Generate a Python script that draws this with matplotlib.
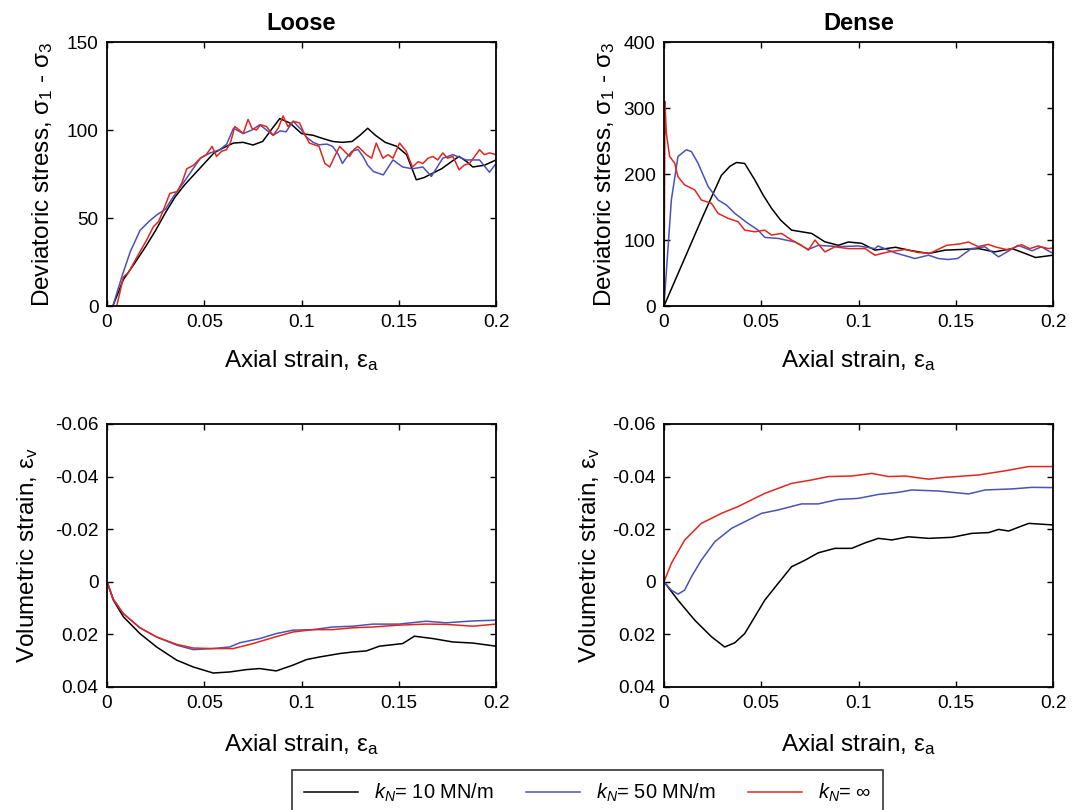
import matplotlib
matplotlib.use('Agg')
import matplotlib.pyplot as plt

# Fontes (parecido com Helvetica)
plt.rcParams['font.family'] = ['Liberation Sans', 'DejaVu Sans']
plt.rcParams['mathtext.fontset'] = 'custom'
plt.rcParams['mathtext.rm'] = 'Liberation Sans'
plt.rcParams['mathtext.it'] = 'Liberation Sans:italic'

# Cores das series
cores = ['black', '#4a52b8', '#e3261d']
legendas = ['$k_N$= 10 MN/m', '$k_N$= 50 MN/m', '$k_N$= \u221e']

# Ticks
xticks = [0, 0.05, 0.1, 0.15, 0.2]
xticklabels = ['0', '0.05', '0.1', '0.15', '0.2']
ticks_loose = [0, 50, 100, 150]
ticks_dense = [0, 100, 200, 300, 400]
ticks_vol = [-0.06, -0.04, -0.02, 0, 0.02, 0.04]
ticklabels_vol = ['-0.06', '-0.04', '-0.02', '0', '0.02', '0.04']

# ---- Loose: tensao desviadora ----
loose_q_x_10 = [0.003, 0.0084, 0.014, 0.02, 0.025, 0.03, 0.035, 0.04, 0.045, 0.05, 0.055, 0.06, 0.065, 0.07,
                0.075, 0.08, 0.085, 0.0888, 0.094, 0.1, 0.106, 0.11, 0.116, 0.121, 0.126, 0.13, 0.134, 0.138,
                0.143, 0.149, 0.154, 0.159, 0.163, 0.1675, 0.172, 0.177, 0.181, 0.185, 0.188, 0.194, 0.2]
loose_q_y_10 = [0, 15, 24, 34, 43, 53, 62, 69, 75, 81, 87, 90, 92.6, 93, 91.5, 93.5, 101, 106.5, 104, 98,
                97, 95.5, 93.5, 93, 93.5, 97, 101, 97, 93, 90.7, 86, 71.7, 73, 75.5, 78, 82, 85, 82, 79, 80, 83]
loose_q_x_50 = [0.003, 0.008, 0.012, 0.017, 0.0215, 0.0255, 0.03, 0.034, 0.038, 0.043, 0.048, 0.053, 0.058,
                0.0615, 0.065, 0.07, 0.0745, 0.0785, 0.082, 0.0854, 0.089, 0.092, 0.0957, 0.1, 0.1025, 0.106,
                0.109, 0.113, 0.116, 0.119, 0.121, 0.1235, 0.126, 0.129, 0.1316, 0.134, 0.137, 0.142, 0.147,
                0.152, 0.157, 0.1624, 0.1667, 0.1726, 0.1778, 0.1846, 0.1915, 0.1966, 0.2]
loose_q_y_50 = [0, 18, 31, 43, 48, 51.7, 55, 62, 68, 76, 84, 87, 88.8, 92, 101, 98, 100, 103, 100, 97, 99.5,
                99, 105, 100, 96, 93, 91.6, 92, 90.7, 86, 81, 85, 88, 89, 85, 80, 76.4, 74.5, 83, 79, 78, 79,
                73.6, 84, 86, 83, 83, 76, 81]
loose_q_x_inf = [0.005, 0.0084, 0.011, 0.0135, 0.017, 0.0204, 0.0238, 0.0265, 0.029, 0.0323, 0.036, 0.0385,
                 0.041, 0.0445, 0.048, 0.051, 0.054, 0.0563, 0.059, 0.0614, 0.0635, 0.0657, 0.068, 0.07,
                 0.0725, 0.0745, 0.0768, 0.079, 0.082, 0.0854, 0.088, 0.0905, 0.093, 0.0957, 0.099, 0.101,
                 0.104, 0.109, 0.112, 0.1145, 0.117, 0.1196, 0.122, 0.1247, 0.127, 0.129, 0.1333, 0.136,
                 0.1384, 0.1418, 0.1445, 0.147, 0.1504, 0.1538, 0.157, 0.16, 0.1624, 0.165, 0.1675, 0.17,
                 0.1726, 0.175, 0.1778, 0.181, 0.1835, 0.1863, 0.189, 0.1915, 0.194, 0.1966, 0.2]
loose_q_y_inf = [0, 16.5, 19, 24, 31, 37.5, 45, 48, 54.6, 64, 65, 70, 78, 80, 84, 86, 90.7, 85, 88, 88.8,
                 93, 102, 100, 98, 106, 101, 100, 103, 102, 97, 101, 108, 102, 105, 104, 99, 92.6, 90.7,
                 81, 79, 85, 90.7, 88, 85, 89, 90.7, 86, 84, 92.6, 84, 86, 84, 92.6, 88, 79, 82, 81, 84,
                 85, 83, 87, 84, 85, 77.4, 80, 81, 85, 88.8, 86, 87, 86]

# ---- Dense: tensao desviadora ----
dense_q_x_10 = [0, 0.01, 0.02, 0.0295, 0.034, 0.0373, 0.0415, 0.0467, 0.051, 0.0553, 0.06, 0.0656, 0.0707,
                0.0759, 0.0827, 0.0896, 0.0948, 0.1016, 0.1085, 0.119, 0.127, 0.136, 0.1446, 0.153, 0.1617,
                0.17, 0.179, 0.1857, 0.191, 0.2]
dense_q_y_10 = [0, 68, 136, 198, 212, 217.5, 216, 191, 168, 148, 130, 115, 112.5, 110, 97.3, 92, 97, 95,
                84.7, 89, 84, 79.6, 84.7, 85.7, 87, 82, 87, 79.6, 73.5, 77]
dense_q_x_50 = [0, 0.0038, 0.0072, 0.0115, 0.0141, 0.0175, 0.0227, 0.0278, 0.0321, 0.0364, 0.0433, 0.0484,
                0.0518, 0.0587, 0.0673, 0.0742, 0.0793, 0.0896, 0.0999, 0.1085, 0.11, 0.1188, 0.129, 0.136,
                0.141, 0.146, 0.151, 0.158, 0.165, 0.172, 0.1755, 0.182, 0.1892, 0.194, 0.2]
dense_q_y_50 = [0, 161, 226.6, 236.8, 234, 216.5, 181, 160.7, 153, 140.4, 125, 115, 104, 102.4, 97, 85.7,
                92, 90, 91, 87, 91, 80.6, 72, 77, 72, 70.5, 72, 87, 89.7, 74.5, 80.6, 92, 83.7, 89.7, 79.6]
dense_q_x_inf = [0, 0.0005, 0.0012, 0.0029, 0.0055, 0.0072, 0.0106, 0.0158, 0.0192, 0.0244, 0.0278, 0.033,
                 0.0381, 0.0415, 0.0467, 0.0518, 0.0553, 0.0604, 0.0656, 0.0707, 0.0742, 0.0776, 0.0827,
                 0.0879, 0.0948, 0.1034, 0.1085, 0.1154, 0.124, 0.1308, 0.1368, 0.1453, 0.152, 0.1565,
                 0.1615, 0.1667, 0.171, 0.177, 0.1838, 0.188, 0.1924, 0.1975, 0.2]
dense_q_y_inf = [0, 310, 262, 226.6, 216.5, 196, 183.5, 176, 160.7, 155.6, 140.4, 132.8, 127.8, 115, 112.5,
                 115, 107.5, 110, 100, 92, 84.7, 100, 82, 89.7, 87, 87, 77, 82, 85.7, 81, 80, 92, 94, 97,
                 90, 93.4, 89, 85, 93, 87, 91, 87, 88]

# ---- Loose: deformacao volumetrica ----
loose_v_x_10 = [0, 0.00325, 0.0084, 0.0169, 0.0255, 0.0358, 0.0443, 0.0546, 0.063, 0.0717, 0.0785, 0.087,
                0.0956, 0.1025, 0.1093, 0.1196, 0.1264, 0.1333, 0.14, 0.152, 0.158, 0.1675, 0.1778, 0.188, 0.2]
loose_v_y_10 = [0, 0.007, 0.0133, 0.0197, 0.0248, 0.0298, 0.0324, 0.0347, 0.0343, 0.0334, 0.033, 0.0339,
                0.0317, 0.0296, 0.0286, 0.0273, 0.0267, 0.0263, 0.0245, 0.0235, 0.0207, 0.0216, 0.0229,
                0.0233, 0.0245]
loose_v_x_50 = [0, 0.00325, 0.0084, 0.0169, 0.0255, 0.0358, 0.0443, 0.0546, 0.063, 0.0683, 0.0785, 0.087,
                0.0956, 0.106, 0.116, 0.1264, 0.1367, 0.15, 0.164, 0.1743, 0.188, 0.2]
loose_v_y_50 = [0, 0.0067, 0.0121, 0.0175, 0.021, 0.0241, 0.0258, 0.0254, 0.0248, 0.0232, 0.0216, 0.0197,
                0.0184, 0.0182, 0.0172, 0.0169, 0.0161, 0.0161, 0.015, 0.0156, 0.0149, 0.0146]
loose_v_x_inf = [0, 0.00325, 0.0084, 0.0169, 0.0255, 0.0358, 0.0443, 0.0546, 0.0648, 0.0751, 0.0854,
                 0.0956, 0.106, 0.116, 0.1264, 0.1367, 0.15, 0.164, 0.1743, 0.188, 0.2]
loose_v_y_inf = [0, 0.0067, 0.0121, 0.0175, 0.021, 0.0238, 0.0252, 0.0254, 0.0254, 0.0235, 0.0212, 0.0191,
                 0.0182, 0.0182, 0.0175, 0.0172, 0.0165, 0.0161, 0.0162, 0.0169, 0.0161]

# ---- Dense: deformacao volumetrica ----
dense_v_x_10 = [0, 0.0072, 0.0158, 0.0244, 0.0312, 0.0364, 0.0415, 0.0467, 0.0518, 0.0587, 0.0656, 0.0725,
                0.0793, 0.0879, 0.0965, 0.1034, 0.1102, 0.1171, 0.1257, 0.136, 0.148, 0.1583, 0.1669, 0.172,
                0.1772, 0.1875, 0.2]
dense_v_y_10 = [0, 0.007, 0.0146, 0.0209, 0.0248, 0.0232, 0.0197, 0.0133, 0.007, 0.0006, -0.0057, -0.0082,
                -0.011, -0.0127, -0.0127, -0.0148, -0.0165, -0.0159, -0.0171, -0.0165, -0.0169, -0.0184,
                -0.0187, -0.0199, -0.0193, -0.0222, -0.0216]
dense_v_x_50 = [0, 0.0038, 0.0072, 0.0106, 0.0141, 0.0192, 0.0261, 0.0347, 0.0415, 0.0501, 0.0587, 0.0707,
                0.0793, 0.0896, 0.0999, 0.1102, 0.1205, 0.1274, 0.1411, 0.1566, 0.1651, 0.1789, 0.1892, 0.2]
dense_v_y_50 = [0, 0.0032, 0.0047, 0.0032, -0.0019, -0.0082, -0.0152, -0.0203, -0.0228, -0.026, -0.0273,
                -0.0296, -0.0296, -0.0313, -0.0317, -0.0332, -0.034, -0.0349, -0.0345, -0.0334, -0.0349,
                -0.0353, -0.0359, -0.0358]
dense_v_x_inf = [0, 0.0038, 0.0106, 0.0192, 0.0295, 0.0381, 0.0518, 0.0656, 0.0759, 0.0845, 0.0965, 0.1068,
                 0.1154, 0.124, 0.136, 0.1446, 0.1617, 0.1755, 0.1875, 0.2]
dense_v_y_inf = [0, -0.007, -0.0158, -0.0222, -0.026, -0.0286, -0.0336, -0.0374, -0.0387, -0.04, -0.0402,
                 -0.0412, -0.04, -0.0402, -0.039, -0.0397, -0.0406, -0.0422, -0.0438, -0.0438]

fig = plt.figure(figsize=(10.91, 8.10), dpi=100)

# Posicoes dos eixos (em fracao da figura)
ax1 = fig.add_axes([0.0981, 0.6222, 0.3566, 0.3259])
ax2 = fig.add_axes([0.6086, 0.6222, 0.3566, 0.3259])
ax3 = fig.add_axes([0.0981, 0.1519, 0.3566, 0.3247])
ax4 = fig.add_axes([0.6086, 0.1519, 0.3566, 0.3247])

series = [
    (ax1, [loose_q_x_10, loose_q_x_50, loose_q_x_inf], [loose_q_y_10, loose_q_y_50, loose_q_y_inf]),
    (ax2, [dense_q_x_10, dense_q_x_50, dense_q_x_inf], [dense_q_y_10, dense_q_y_50, dense_q_y_inf]),
    (ax3, [loose_v_x_10, loose_v_x_50, loose_v_x_inf], [loose_v_y_10, loose_v_y_50, loose_v_y_inf]),
    (ax4, [dense_v_x_10, dense_v_x_50, dense_v_x_inf], [dense_v_y_10, dense_v_y_50, dense_v_y_inf]),
]

linhas = []
for ax, xs, ys in series:
    for k in range(3):
        l, = ax.plot(xs[k], ys[k], '-', c=cores[k], linewidth=1.1)
        if ax is ax1:
            linhas.append(l)

# Configuracao comum
for ax in [ax1, ax2, ax3, ax4]:
    ax.set_xlim(0, 0.2)
    ax.set_xticks(xticks)
    ax.set_xticklabels(xticklabels)
    ax.tick_params(direction='in', top=True, right=True, length=4, width=1, labelsize=13.7, pad=6)
    for s in ax.spines.values():
        s.set_linewidth(1.3)
    ax.set_xlabel('Axial strain, \u03b5$_{\\rm a}$', fontsize=17.5)

ax1.set_ylim(0, 150)
ax1.set_yticks(ticks_loose)
ax2.set_ylim(0, 400)
ax2.set_yticks(ticks_dense)
for ax in [ax3, ax4]:
    ax.set_ylim(0.04, -0.06)
    ax.set_yticks(ticks_vol)
    ax.set_yticklabels(ticklabels_vol)

ax1.set_title('Loose', fontsize=17, fontweight='bold', pad=9)
ax2.set_title('Dense', fontsize=17, fontweight='bold', pad=9)

ax1.set_ylabel('Deviatoric stress, \u03c3$_1$ - \u03c3$_3$', fontsize=17.5)
ax2.set_ylabel('Deviatoric stress, \u03c3$_1$ - \u03c3$_3$', fontsize=17.5)
ax3.set_ylabel('Volumetric strain, \u03b5$_{\\rm v}$', fontsize=17.5)
ax4.set_ylabel('Volumetric strain, \u03b5$_{\\rm v}$', fontsize=17.5)

ax1.yaxis.set_label_coords(-0.135, 0.5)
ax2.yaxis.set_label_coords(-0.121, 0.5)
ax3.yaxis.set_label_coords(-0.172, 0.5)
ax4.yaxis.set_label_coords(-0.159, 0.5)
for ax in [ax1, ax2]:
    ax.xaxis.set_label_coords(0.5, -0.16)
for ax in [ax3, ax4]:
    ax.xaxis.set_label_coords(0.5, -0.17)

# Legenda embaixo
leg = fig.legend(linhas, legendas, loc='upper center', bbox_to_anchor=(0.5385, 0.0494), ncol=3,
                 fontsize=14.4, frameon=True, fancybox=False, edgecolor='black', handlelength=2.7,
                 columnspacing=1.6, borderpad=0.6, handletextpad=0.8, borderaxespad=0)
leg.get_frame().set_linewidth(1.2)

plt.savefig('out.png', dpi=100)
